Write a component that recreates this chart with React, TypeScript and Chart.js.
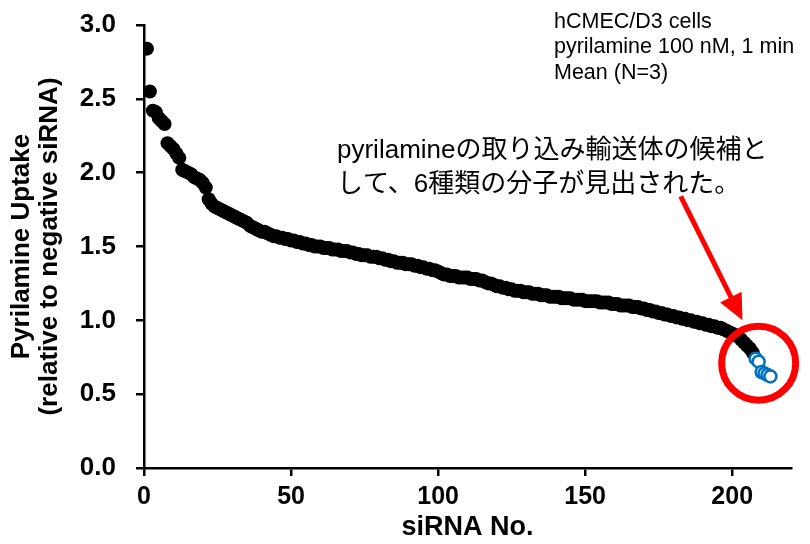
import React, { useEffect, useRef } from 'react';
import { Chart, registerables } from 'chart.js';

Chart.register(...registerables);

// siRNA No. 1..207 (black) then 208..213 (blue candidates)
const blackValues: number[] = [
  2.84, 2.55, 2.42, 2.41, 2.37, 2.35, 2.33, 2.20, 2.18, 2.16,
  2.13, 2.10, 2.02, 2.01, 2.00, 1.99, 1.97, 1.96, 1.95, 1.93,
  1.90, 1.82, 1.79, 1.77, 1.76, 1.75, 1.74, 1.73, 1.72, 1.71,
  1.70, 1.69, 1.68, 1.67, 1.66, 1.64, 1.63, 1.62, 1.61, 1.60,
  1.60, 1.59, 1.58, 1.57, 1.57, 1.56, 1.56, 1.55, 1.55, 1.54,
  1.54, 1.53, 1.53, 1.52, 1.52, 1.51, 1.51, 1.50, 1.50, 1.50,
  1.49, 1.49, 1.49, 1.48, 1.48, 1.48, 1.47, 1.47, 1.47, 1.46,
  1.46, 1.45, 1.45, 1.44, 1.44, 1.44, 1.43, 1.43, 1.43, 1.42,
  1.42, 1.41, 1.41, 1.40, 1.40, 1.39, 1.39, 1.39, 1.38, 1.38,
  1.38, 1.37, 1.37, 1.36, 1.36, 1.35, 1.35, 1.34, 1.34, 1.33,
  1.32, 1.31, 1.31, 1.30, 1.30, 1.30, 1.29, 1.29, 1.29, 1.29,
  1.28, 1.28, 1.28, 1.27, 1.27, 1.26, 1.25, 1.25, 1.24, 1.23,
  1.23, 1.22, 1.22, 1.21, 1.21, 1.20, 1.20, 1.20, 1.19, 1.19,
  1.19, 1.18, 1.18, 1.18, 1.17, 1.17, 1.17, 1.16, 1.16, 1.16,
  1.16, 1.15, 1.15, 1.15, 1.15, 1.14, 1.14, 1.14, 1.14, 1.13,
  1.13, 1.13, 1.13, 1.13, 1.12, 1.12, 1.12, 1.12, 1.11, 1.11,
  1.11, 1.10, 1.10, 1.10, 1.10, 1.09, 1.09, 1.09, 1.08, 1.08,
  1.07, 1.07, 1.06, 1.06, 1.05, 1.05, 1.04, 1.04, 1.03, 1.03,
  1.02, 1.02, 1.01, 1.01, 1.00, 1.00, 0.99, 0.99, 0.98, 0.98,
  0.97, 0.97, 0.96, 0.96, 0.95, 0.95, 0.94, 0.93, 0.92, 0.91,
  0.90, 0.89, 0.87, 0.85, 0.83, 0.81, 0.78,
];
const blueValues: number[] = [0.74, 0.72, 0.65, 0.64, 0.63, 0.62];

const xTicks: number[] = [0, 50, 100, 150, 200];
const yTicks: number[] = [0, 0.5, 1.0, 1.5, 2.0, 2.5, 3.0];
const xMax = 220;
const yMax = 3.0;

const xTitle = 'siRNA No.';
const yTitle = ['Pyrilamine Uptake', '(relative to negative siRNA)'];
const infoLines = ['hCMEC/D3 cells', 'pyrilamine 100 nM, 1 min', 'Mean (N=3)'];
const noteLines = ['pyrilamineの取り込み輸送体の候補と', 'して、6種類の分子が見出された。'];

// annotation anchors in data units
const circleCenter = { x: 209, y: 0.71 };
const arrowFrom = { x: 182.5, y: 1.84 };
const arrowTo = { x: 203.5, y: 1.0 };

const BOLD_FONT = "'Liberation Sans', Arial, sans-serif";
const TEXT_FONT = "'Liberation Sans', Arial, 'Noto Sans CJK JP', sans-serif";

const annotationPlugin = {
  id: 'annotations',
  afterDraw(chart: any) {
    const ctx = chart.ctx as CanvasRenderingContext2D;
    const xs = chart.scales.x;
    const ys = chart.scales.y;
    ctx.save();
    ctx.fillStyle = '#000';
    ctx.textBaseline = 'middle';
    ctx.textAlign = 'left';
    ctx.font = `21.5px ${TEXT_FONT}`;
    infoLines.forEach((t, i) => ctx.fillText(t, 554, 22 + i * 25.5));
    ctx.font = `26px ${TEXT_FONT}`;
    noteLines.forEach((t, i) => ctx.fillText(t, 337, 151 + i * 34));

    // arrow
    const x0 = xs.getPixelForValue(arrowFrom.x);
    const y0 = ys.getPixelForValue(arrowFrom.y);
    const x1 = xs.getPixelForValue(arrowTo.x);
    const y1 = ys.getPixelForValue(arrowTo.y);
    const ang = Math.atan2(y1 - y0, x1 - x0);
    const headLen = 26;
    const headW = 12;
    ctx.strokeStyle = '#FF0000';
    ctx.fillStyle = '#FF0000';
    ctx.lineWidth = 5;
    ctx.beginPath();
    ctx.moveTo(x0, y0);
    ctx.lineTo(x1 - Math.cos(ang) * headLen * 0.8, y1 - Math.sin(ang) * headLen * 0.8);
    ctx.stroke();
    const bx = x1 - Math.cos(ang) * headLen;
    const by = y1 - Math.sin(ang) * headLen;
    ctx.beginPath();
    ctx.moveTo(x1, y1);
    ctx.lineTo(bx + Math.sin(ang) * headW, by - Math.cos(ang) * headW);
    ctx.lineTo(bx - Math.sin(ang) * headW, by + Math.cos(ang) * headW);
    ctx.closePath();
    ctx.fill();

    // circle
    const cx = xs.getPixelForValue(circleCenter.x);
    const cy = ys.getPixelForValue(circleCenter.y);
    ctx.lineWidth = 7;
    ctx.beginPath();
    ctx.arc(cx, cy, 37, 0, Math.PI * 2);
    ctx.stroke();
    ctx.restore();
  },
};

export default function App() {
  const ref = useRef<HTMLCanvasElement | null>(null);
  useEffect(() => {
    if (!ref.current) return;
    const black = blackValues.map((v, i) => ({ x: i + 1, y: v }));
    const blue = blueValues.map((v, i) => ({ x: blackValues.length + i + 1, y: v }));
    const chart = new Chart(ref.current, {
      type: 'scatter',
      data: {
        datasets: [
          {
            label: 'candidates',
            data: blue,
            order: 0,
            pointRadius: 6,
            pointBackgroundColor: '#FFFFFF',
            pointBorderColor: '#0070C0',
            pointBorderWidth: 2.5,
          },
          {
            label: 'siRNA',
            data: black,
            order: 1,
            pointRadius: 7,
            pointBackgroundColor: '#000000',
            pointBorderColor: '#000000',
            pointBorderWidth: 0,
          },
        ],
      },
      options: {
        animation: false,
        responsive: true,
        maintainAspectRatio: false,
        layout: { padding: { left: 0, top: 25, right: 19, bottom: 0 } },
        plugins: { legend: { display: false }, tooltip: { enabled: false } },
        scales: {
          x: {
            type: 'linear',
            min: 0,
            max: xMax,
            afterBuildTicks: (s: any) => { s.ticks = xTicks.map((v) => ({ value: v })); },
            afterFit: (s: any) => { s.height = 76; s.paddingLeft = 0; s.paddingRight = 0; },
            ticks: {
              color: '#000',
              font: { family: BOLD_FONT, size: 25, weight: 'bold' },
              padding: 6,
              maxRotation: 0,
              callback: (v: any) => String(v),
            },
            grid: { drawOnChartArea: false, drawTicks: true, tickLength: 8, color: '#000', lineWidth: 2.5 },
            border: { display: true, color: '#000', width: 2.5 },
            title: {
              display: true,
              text: xTitle,
              color: '#000',
              font: { family: BOLD_FONT, size: 27, weight: 'bold' },
              padding: { top: 0, bottom: 0 },
            },
          },
          y: {
            type: 'linear',
            min: 0,
            max: yMax,
            afterBuildTicks: (s: any) => { s.ticks = yTicks.map((v) => ({ value: v })); },
            afterFit: (s: any) => { s.width = 144; s.paddingTop = 0; s.paddingBottom = 0; },
            ticks: {
              color: '#000',
              font: { family: BOLD_FONT, size: 26, weight: 'bold' },
              padding: 20,
              callback: (v: any) => Number(v).toFixed(1),
            },
            grid: { drawOnChartArea: false, drawTicks: true, tickLength: 8, color: '#000', lineWidth: 2.5 },
            border: { display: true, color: '#000', width: 2.5 },
            title: {
              display: true,
              text: yTitle,
              color: '#000',
              font: { family: BOLD_FONT, size: 26, weight: 'bold', lineHeight: 1.08 },
              padding: { top: 8, bottom: 0 },
            },
          },
        },
      },
      plugins: [annotationPlugin],
    });
    return () => chart.destroy();
  }, []);
  return (
    <div style={{ position: 'absolute', left: 0, top: 0, width: 810, height: 544, background: '#fff' }}>
      <canvas ref={ref} />
    </div>
  );
}
